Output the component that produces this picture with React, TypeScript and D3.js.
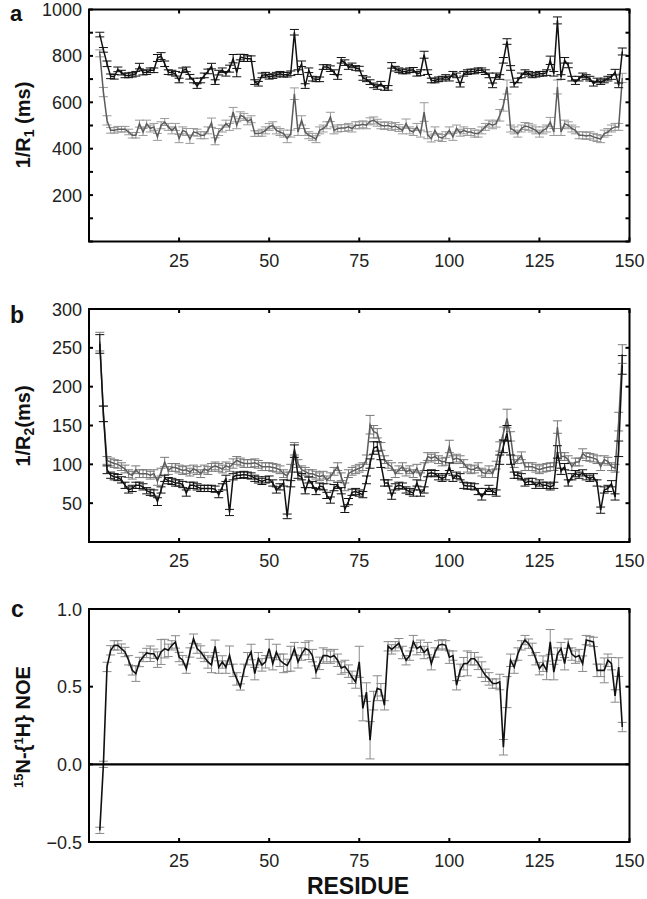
import React from "react";
import * as d3 from "d3";

// Residue numbers 3..148
const residues: number[] = d3.range(3, 149);

// Panel a: 1/R1 (ms)
const r1Black = [
  892, 826, 766, 712, 710, 742, 728, 716, 716, 719,
  723, 756, 728, 730, 738, 738, 791, 799, 766, 730,
  728, 723, 694, 738, 742, 710, 694, 670, 694, 716,
  733, 756, 687, 728, 738, 723, 745, 788, 728, 795,
  791, 788, 788, 687, 680, 716, 719, 710, 713, 719,
  723, 719, 719, 725, 902, 730, 766, 670, 738, 702,
  699, 699, 752, 752, 745, 730, 709, 781, 771, 752,
  759, 748, 745, 705, 699, 687, 673, 666, 680, 662,
  662, 759, 745, 738, 733, 733, 738, 740, 723, 728,
  805, 730, 694, 694, 699, 702, 709, 702, 723, 716,
  676, 723, 730, 733, 733, 738, 738, 730, 716, 673,
  716, 709, 781, 862, 748, 676, 694, 716, 730, 723,
  716, 719, 723, 723, 728, 781, 723, 953, 709, 781,
  759, 702, 687, 702, 716, 709, 702, 680, 694, 687,
  694, 702, 709, 730, 673, 819,
];
const r1BlackErr = [
  10, 10, 12, 10, 10, 10, 10, 10, 10, 10,
  10, 12, 10, 10, 10, 10, 15, 15, 12, 10,
  10, 10, 10, 10, 10, 10, 10, 10, 10, 10,
  10, 12, 10, 10, 10, 10, 15, 18, 18, 12,
  15, 12, 12, 10, 10, 10, 10, 10, 10, 10,
  10, 10, 10, 10, 12, 10, 12, 10, 10, 10,
  10, 10, 10, 10, 12, 10, 10, 12, 12, 10,
  10, 10, 10, 10, 10, 10, 10, 10, 10, 10,
  10, 12, 10, 10, 10, 10, 10, 10, 10, 12,
  15, 10, 10, 10, 10, 10, 10, 10, 10, 10,
  10, 10, 10, 10, 10, 10, 10, 10, 10, 10,
  10, 10, 12, 12, 10, 10, 10, 10, 10, 10,
  10, 10, 10, 10, 12, 18, 10, 15, 10, 12,
  10, 10, 10, 10, 10, 10, 10, 10, 10, 10,
  10, 10, 10, 12, 10, 15,
];
const r1Gray = [
  811, 644, 522, 479, 479, 484, 484, 484, 472, 458,
  458, 508, 472, 508, 487, 494, 451, 501, 515, 494,
  479, 494, 444, 479, 472, 441, 472, 469, 458, 458,
  479, 512, 432, 472, 487, 508, 494, 558, 501, 544,
  537, 518, 527, 465, 465, 469, 479, 494, 501, 479,
  472, 465, 444, 465, 637, 472, 522, 472, 458, 451,
  441, 479, 487, 501, 537, 479, 487, 489, 489, 494,
  487, 501, 501, 505, 501, 518, 522, 512, 501, 498,
  501, 494, 498, 489, 479, 508, 479, 472, 494, 465,
  558, 458, 444, 479, 451, 446, 458, 479, 451, 487,
  469, 479, 472, 472, 465, 465, 479, 494, 508, 501,
  508, 544, 587, 666, 487, 479, 465, 487, 498, 494,
  487, 479, 465, 479, 487, 515, 472, 666, 472, 508,
  501, 487, 479, 458, 458, 455, 458, 451, 446, 441,
  465, 472, 487, 494, 494, 705,
];
const r1GrayErr = [
  15, 20, 20, 12, 12, 12, 12, 12, 12, 12,
  12, 15, 15, 15, 15, 15, 15, 15, 15, 15,
  15, 15, 18, 15, 15, 18, 15, 15, 15, 15,
  15, 20, 15, 15, 15, 15, 15, 20, 15, 15,
  15, 15, 15, 12, 12, 15, 15, 15, 15, 15,
  15, 15, 18, 15, 25, 15, 20, 15, 15, 15,
  15, 15, 15, 15, 20, 15, 15, 15, 15, 15,
  15, 15, 15, 15, 15, 15, 15, 15, 15, 15,
  15, 15, 15, 15, 15, 20, 15, 15, 15, 15,
  40, 15, 15, 15, 15, 15, 15, 15, 15, 15,
  15, 15, 15, 15, 15, 15, 15, 15, 15, 15,
  15, 25, 25, 30, 15, 15, 15, 15, 15, 15,
  15, 15, 15, 15, 15, 20, 15, 30, 15, 15,
  15, 15, 15, 15, 15, 15, 15, 15, 15, 15,
  15, 15, 15, 15, 15, 20,
];

// Panel b: 1/R2 (ms)
const r2Black = [
  255, 165, 93, 86, 84, 83, 80, 73, 67, 69,
  73, 73, 71, 66, 64, 63, 52, 67, 82, 79,
  78, 76, 76, 74, 63, 73, 73, 71, 69, 69,
  69, 69, 68, 61, 71, 82, 38, 84, 86, 86,
  87, 86, 85, 82, 80, 78, 80, 81, 76, 67,
  71, 76, 33, 75, 117, 86, 84, 66, 80, 74,
  65, 72, 71, 60, 54, 70, 73, 66, 42, 52,
  64, 65, 63, 61, 80, 101, 121, 123, 101, 76,
  76, 59, 71, 73, 72, 67, 65, 63, 76, 63,
  67, 88, 89, 88, 84, 82, 84, 97, 82, 86,
  84, 73, 72, 72, 71, 65, 58, 65, 69, 65,
  63, 106, 123, 140, 106, 86, 86, 84, 76, 78,
  78, 73, 76, 73, 73, 71, 73, 116, 91, 97,
  76, 84, 88, 86, 89, 84, 82, 84, 76, 41,
  67, 69, 75, 58, 120, 228,
];
const r2BlackErr = [
  12, 10, 5, 4, 4, 4, 4, 4, 4, 4,
  4, 4, 4, 4, 4, 4, 5, 4, 4, 4,
  4, 4, 4, 4, 4, 4, 4, 4, 4, 4,
  4, 4, 4, 4, 4, 4, 4, 4, 4, 4,
  4, 4, 4, 4, 4, 4, 4, 4, 4, 4,
  4, 4, 3, 4, 8, 4, 4, 4, 4, 4,
  4, 4, 4, 4, 4, 4, 4, 4, 4, 4,
  4, 4, 4, 4, 5, 6, 8, 6, 5, 4,
  4, 4, 4, 4, 4, 4, 4, 4, 4, 4,
  4, 4, 4, 4, 4, 4, 4, 5, 4, 4,
  4, 4, 4, 4, 4, 4, 4, 4, 4, 4,
  4, 6, 8, 10, 6, 4, 4, 4, 4, 4,
  4, 4, 4, 4, 4, 4, 4, 8, 4, 4,
  4, 4, 4, 4, 4, 4, 4, 4, 4, 4,
  4, 4, 4, 4, 10, 12,
];
const r2Gray = [
  258, 165, 105, 103, 101, 100, 97, 94, 88, 86,
  93, 88, 88, 88, 86, 88, 78, 90, 103, 92,
  96, 96, 94, 92, 93, 90, 94, 92, 88, 94,
  92, 96, 98, 96, 94, 98, 96, 101, 105, 103,
  101, 101, 101, 102, 100, 97, 97, 97, 96, 95,
  93, 88, 85, 95, 120, 101, 93, 91, 88, 88,
  86, 84, 86, 80, 84, 91, 97, 84, 71, 88,
  91, 93, 95, 97, 106, 151, 142, 140, 123, 106,
  100, 97, 88, 93, 97, 90, 93, 88, 95, 84,
  97, 110, 108, 110, 106, 103, 104, 123, 106, 108,
  106, 101, 95, 93, 94, 97, 90, 88, 93, 88,
  99, 123, 140, 159, 136, 101, 106, 111, 97, 97,
  97, 95, 93, 95, 96, 97, 97, 148, 110, 110,
  106, 97, 103, 103, 114, 110, 109, 108, 106, 97,
  106, 104, 97, 95, 155, 242,
];
const r2GrayErr = [
  12, 10, 5, 5, 5, 5, 5, 5, 5, 5,
  5, 5, 5, 5, 5, 5, 5, 5, 6, 5,
  5, 5, 5, 5, 5, 5, 5, 5, 5, 5,
  5, 5, 5, 5, 5, 5, 5, 6, 5, 5,
  5, 5, 5, 5, 5, 5, 5, 5, 5, 5,
  5, 5, 5, 5, 8, 5, 5, 5, 5, 5,
  5, 5, 5, 5, 5, 5, 5, 5, 5, 5,
  5, 5, 5, 5, 6, 12, 8, 6, 5, 5,
  5, 5, 5, 5, 5, 5, 5, 5, 5, 5,
  5, 5, 5, 5, 5, 5, 5, 8, 5, 5,
  5, 5, 5, 5, 5, 5, 5, 5, 5, 5,
  5, 6, 8, 12, 6, 5, 5, 5, 5, 5,
  5, 5, 5, 5, 5, 5, 5, 8, 5, 5,
  5, 5, 5, 5, 6, 5, 5, 5, 5, 5,
  5, 5, 5, 5, 12, 12,
];

// Panel c: 15N-{1H} NOE
const noe = [
  -0.425, 0.0, 0.627, 0.734, 0.766, 0.766, 0.745, 0.723, 0.67, 0.605,
  0.584, 0.659, 0.691, 0.717, 0.712, 0.712, 0.674, 0.723, 0.745, 0.734,
  0.766, 0.788, 0.691, 0.67, 0.616, 0.72, 0.809, 0.745, 0.723, 0.691,
  0.659, 0.64, 0.76, 0.626, 0.659, 0.626, 0.702, 0.605, 0.55, 0.498,
  0.605, 0.68, 0.723, 0.584, 0.68, 0.64, 0.66, 0.745, 0.648, 0.723,
  0.67, 0.65, 0.637, 0.68, 0.745, 0.66, 0.71, 0.745, 0.735, 0.7,
  0.594, 0.65, 0.7, 0.7, 0.69, 0.7, 0.67, 0.62, 0.63, 0.6,
  0.56, 0.53, 0.66, 0.36, 0.465, 0.155, 0.41, 0.49, 0.48, 0.38,
  0.76, 0.74, 0.76, 0.78, 0.72, 0.67, 0.7, 0.79, 0.745, 0.76,
  0.72, 0.745, 0.648, 0.72, 0.766, 0.773, 0.766, 0.69, 0.7, 0.509,
  0.605, 0.648, 0.65, 0.68, 0.68, 0.65, 0.61, 0.573, 0.55, 0.52,
  0.52, 0.53, 0.11, 0.465, 0.67, 0.626, 0.71, 0.766, 0.8, 0.777,
  0.74, 0.68, 0.616, 0.648, 0.605, 0.788, 0.594, 0.71, 0.745, 0.648,
  0.777, 0.71, 0.69, 0.7, 0.648, 0.8, 0.794, 0.788, 0.605, 0.605,
  0.605, 0.67, 0.648, 0.44, 0.626, 0.24,
];
const noeErr = [
  0.02, 0.02, 0.03, 0.03, 0.03, 0.03, 0.03, 0.03, 0.03, 0.03,
  0.05, 0.03, 0.03, 0.03, 0.05, 0.03, 0.05, 0.08, 0.06, 0.04,
  0.03, 0.04, 0.03, 0.03, 0.03, 0.03, 0.03, 0.03, 0.04, 0.03,
  0.04, 0.05, 0.04, 0.04, 0.04, 0.04, 0.06, 0.04, 0.04, 0.02,
  0.04, 0.04, 0.05, 0.04, 0.04, 0.04, 0.04, 0.06, 0.04, 0.05,
  0.04, 0.06, 0.04, 0.08, 0.04, 0.04, 0.04, 0.04, 0.06, 0.04,
  0.04, 0.04, 0.05, 0.04, 0.04, 0.04, 0.04, 0.04, 0.04, 0.04,
  0.04, 0.04, 0.1, 0.08, 0.06, 0.12, 0.06, 0.08, 0.04, 0.03,
  0.03, 0.03, 0.03, 0.03, 0.04, 0.03, 0.03, 0.04, 0.04, 0.04,
  0.04, 0.04, 0.04, 0.03, 0.03, 0.03, 0.03, 0.04, 0.03, 0.03,
  0.04, 0.04, 0.08, 0.04, 0.04, 0.04, 0.05, 0.04, 0.04, 0.03,
  0.03, 0.05, 0.05, 0.1, 0.04, 0.04, 0.04, 0.03, 0.03, 0.03,
  0.04, 0.04, 0.04, 0.05, 0.06, 0.08, 0.05, 0.04, 0.04, 0.04,
  0.03, 0.04, 0.04, 0.04, 0.05, 0.03, 0.03, 0.03, 0.04, 0.04,
  0.08, 0.04, 0.04, 0.04, 0.06, 0.03,
];

const xTickValues = [25, 50, 75, 100, 125, 150];
const aTickLabels = [200, 400, 600, 800, 1000];
const bTickLabels = [50, 100, 150, 200, 250, 300];
const cTickLabels = [-0.5, 0.0, 0.5, 1.0];

const FONT = "'Liberation Sans', Arial, Helvetica, sans-serif";
const W = 647;
const H = 899;
const X0 = 89;
const X1 = 629.5;

const x = d3.scaleLinear().domain([0, 150]).range([X0, X1]);

type Series = { values: number[]; errs: number[]; line: string; err: string; lw: number };

function Panel(props: {
  top: number;
  bottom: number;
  domain: [number, number];
  minorStep: number;
  labels: number[];
  fmt: (v: number) => string;
  series: Series[];
  zeroLine?: boolean;
}) {
  const { top, bottom, domain, minorStep, labels, fmt, series, zeroLine } = props;
  const y = d3.scaleLinear().domain(domain).range([bottom, top]);
  const minor = d3.range(domain[0], domain[1] + minorStep / 2, minorStep);
  const line = d3
    .line<number>()
    .x((_, i) => x(residues[i]))
    .y((v) => y(v));
  const cap = 4.5;
  return (
    <g>
      {series.map((s, si) => (
        <g key={si}>
          <g stroke={s.err} strokeWidth={1} fill="none">
            {s.values.map((v, i) => {
              const cx = x(residues[i]);
              const y1 = y(v - s.errs[i]);
              const y2 = y(v + s.errs[i]);
              return (
                <path
                  key={i}
                  d={`M${cx},${y1}V${y2}M${cx - cap},${y1}H${cx + cap}M${cx - cap},${y2}H${cx + cap}`}
                />
              );
            })}
          </g>
          <path d={line(s.values) || ""} fill="none" stroke={s.line} strokeWidth={s.lw} strokeLinejoin="miter" />
        </g>
      ))}
      {zeroLine && (
        <line x1={X0} x2={X1} y1={y(0)} y2={y(0)} stroke="#000" strokeWidth={2.2} />
      )}
      <rect x={X0} y={top} width={X1 - X0} height={bottom - top} fill="none" stroke="#000" strokeWidth={2} />
      {minor.map((v, i) => (
        <g key={"m" + i} stroke="#000" strokeWidth={2}>
          <line x1={X0} x2={X0 + 4} y1={y(v)} y2={y(v)} />
          <line x1={X1 - 4} x2={X1} y1={y(v)} y2={y(v)} />
        </g>
      ))}
      {xTickValues.map((t) => (
        <g key={"xt" + t} stroke="#000" strokeWidth={2}>
          <line x1={x(t)} x2={x(t)} y1={top} y2={top + 4} />
          <line x1={x(t)} x2={x(t)} y1={bottom} y2={bottom - 4} />
        </g>
      ))}
      {labels.map((v) => (
        <text
          key={"yl" + v}
          x={82}
          y={y(v) + 6.5}
          textAnchor="end"
          fontSize={18}
          fontFamily={FONT}
          fill="#222"
        >
          {fmt(v)}
        </text>
      ))}
      {xTickValues.map((t) => (
        <text
          key={"xl" + t}
          x={x(t)}
          y={bottom + 25}
          textAnchor="middle"
          fontSize={18}
          fontFamily={FONT}
          fill="#222"
        >
          {t}
        </text>
      ))}
    </g>
  );
}

export default function App() {
  const BLACK = "#111";
  const GRAYL = "#5c5c5c";
  const GRAYE = "#9a9a9a";
  return (
    <svg
      width={W}
      height={H}
      style={{ position: "absolute", left: 0, top: 0, background: "#fff" }}
      fontFamily={FONT}
    >
      <rect x={0} y={0} width={W} height={H} fill="#fff" />
      <Panel
        top={9.5}
        bottom={241.5}
        domain={[0, 1000]}
        minorStep={100}
        labels={aTickLabels}
        fmt={(v) => String(v)}
        series={[
          { values: r1Gray, errs: r1GrayErr, line: GRAYL, err: GRAYE, lw: 1.5 },
          { values: r1Black, errs: r1BlackErr, line: BLACK, err: BLACK, lw: 1.5 },
        ]}
      />
      <Panel
        top={309}
        bottom={542}
        domain={[0, 300]}
        minorStep={50}
        labels={bTickLabels}
        fmt={(v) => String(v)}
        series={[
          { values: r2Gray, errs: r2GrayErr, line: GRAYL, err: "#7a7a7a", lw: 1.5 },
          { values: r2Black, errs: r2BlackErr, line: BLACK, err: BLACK, lw: 1.5 },
        ]}
      />
      <Panel
        top={609}
        bottom={842}
        domain={[-0.5, 1.0]}
        minorStep={0.5}
        labels={cTickLabels}
        fmt={(v) => d3.format(".1f")(v)}
        series={[{ values: noe, errs: noeErr, line: BLACK, err: "#8a8a8a", lw: 1.6 }]}
        zeroLine
      />

      <text x={10} y={21} fontSize={22} fontWeight="bold" fill="#111">a</text>
      <text x={10} y={323} fontSize={23} fontWeight="bold" fill="#111">b</text>
      <text x={11} y={617} fontSize={23} fontWeight="bold" fill="#111">c</text>

      <text transform="translate(30,125) rotate(-90)" textAnchor="middle" fontSize={20} fontWeight="bold" fill="#111">
        1/R<tspan dy={4} fontSize={14}>1</tspan>
        <tspan dy={-4}> (ms)</tspan>
      </text>
      <text transform="translate(30,426) rotate(-90)" textAnchor="middle" fontSize={20} fontWeight="bold" fill="#111">
        1/R<tspan dy={4} fontSize={14}>2</tspan>
        <tspan dy={-4}>(ms)</tspan>
      </text>
      <text transform="translate(30,727) rotate(-90)" textAnchor="middle" fontSize={20} fontWeight="bold" fill="#111">
        <tspan dy={-7} fontSize={13}>15</tspan>
        <tspan dy={7}>N-{"{"}</tspan>
        <tspan dy={-7} fontSize={13}>1</tspan>
        <tspan dy={7}>H{"}"} NOE</tspan>
      </text>

      <text x={358} y={894} textAnchor="middle" fontSize={23} fontWeight="bold" fill="#111">
        RESIDUE
      </text>
    </svg>
  );
}
